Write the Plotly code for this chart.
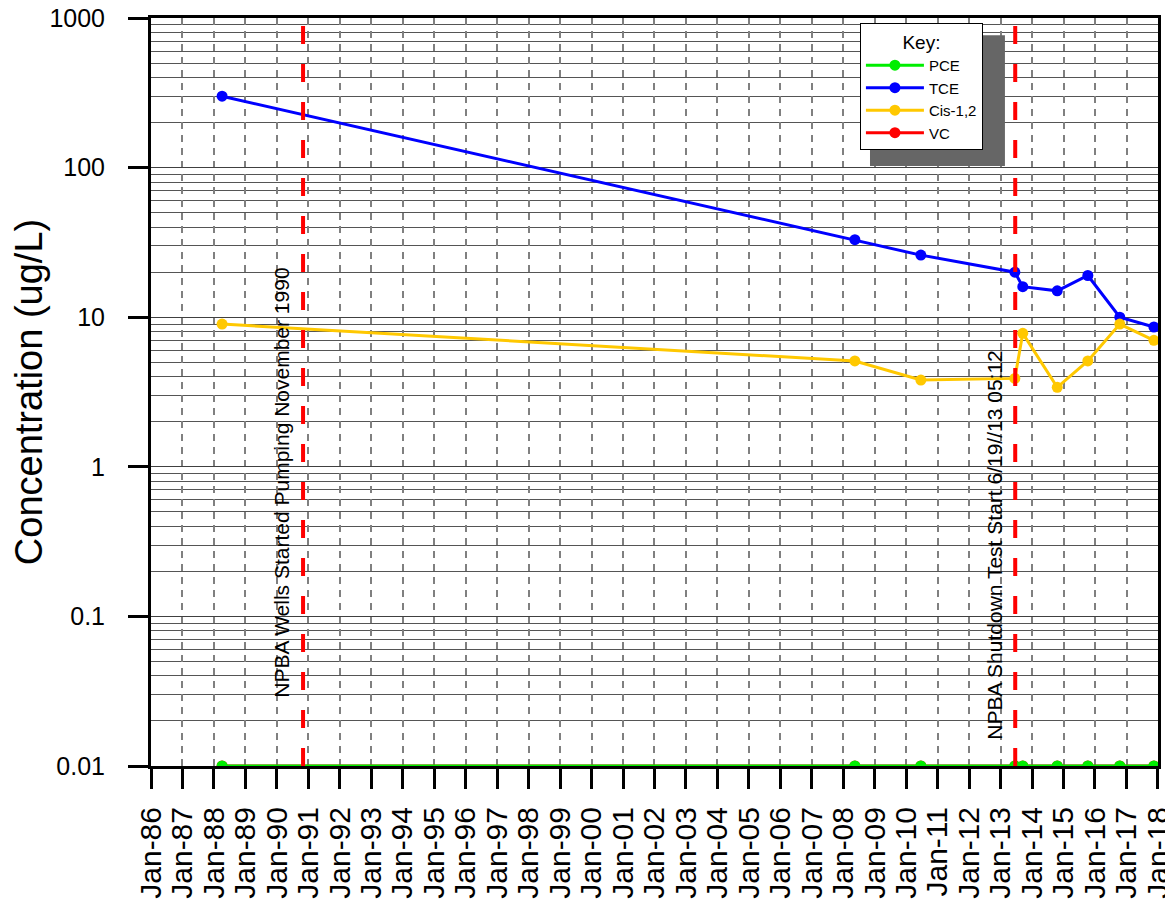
import plotly.graph_objects as go

# ---- data ----
dates = ["1988-04-05", "2008-05-15", "2010-06-20", "2013-06-15", "2013-09-15",
         "2014-10-20", "2015-10-10", "2016-10-15", "2017-11-15"]
pce = [0.01, 0.01, 0.01, 0.01, 0.01, 0.01, 0.01, 0.01, 0.01]
tce = [300, 33, 26, 20, 16, 15, 19, 10, 8.6]
cis12 = [9.0, 5.1, 3.8, 3.9, 7.8, 3.4, 5.1, 9.0, 7.0]
vc = [0.01, 0.01, 0.01, 0.01, 0.01, 0.01, 0.01, 0.01, 0.01]

event_dates = ["1990-11-01", "2013-06-19 05:12"]
event_labels = ["NPBA Wells Started Pumping November 1990",
                "NPBA Shutdown Test Start 6/19//13 05:12"]

y_major = [0.01, 0.1, 1, 10, 100, 1000]
y_major_text = ["0.01", "0.1", "1", "10", "100", "1000"]
y_minor = [m * d for d in [0.01, 0.1, 1, 10, 100] for m in range(2, 10)]

FONT = "Arial, Liberation Sans, sans-serif"

fig = go.Figure()

series = [
    ("VC", vc, "#ff0000", 4),
    ("PCE", pce, "#00ee00", 1),
    ("TCE", tce, "#0000ff", 2),
    ("Cis-1,2", cis12, "#ffc800", 3),
]
for name, vals, color, rank in series:
    fig.add_trace(go.Scatter(
        x=dates, y=vals, name=name, mode="lines+markers",
        line=dict(color=color, width=3),
        marker=dict(color=color, size=11),
        legendrank=rank,
    ))

# event lines and labels
yshift_paper = [0.088, 0.032]
for d, lab, yp in zip(event_dates, event_labels, yshift_paper):
    fig.add_shape(type="line", xref="x", yref="paper", x0=d, x1=d, y0=0, y1=1,
                  line=dict(color="#ff0000", width=4, dash="18px,20px"), layer="above")
    fig.add_annotation(x=d, xref="x", y=yp, yref="paper", text=lab, textangle=-90,
                       showarrow=False, xanchor="right", yanchor="bottom", xshift=-8,
                       font=dict(size=21, color="black", family=FONT))

# legend shadow
fig.add_shape(type="rect", xref="paper", yref="paper",
              x0=0.714, x1=0.848, y0=0.802, y1=0.977,
              fillcolor="#666666", line=dict(width=0), layer="above")

fig.update_layout(
    width=1165, height=895,
    margin=dict(l=143, r=15, t=10, b=137, autoexpand=False),
    plot_bgcolor="white", paper_bgcolor="white",
    font=dict(family=FONT, color="black"),
    showlegend=True,
    legend=dict(x=0.704, y=0.993, xanchor="left", yanchor="top",
                bgcolor="white", bordercolor="black", borderwidth=1,
                font=dict(size=15, family=FONT), itemwidth=58,
                title=dict(text="Key:", side="top center", font=dict(size=19, family=FONT))),
    xaxis=dict(
        type="date", range=["1986-01-01", "2018-01-01 12:00"],
        tick0="1986-01-01", dtick="M12", tickformat="%b-%y", tickangle=-90,
        ticks="outside", ticklen=20, tickwidth=3, tickcolor="black",
        tickfont=dict(size=30, family=FONT), ticklabelstandoff=6,
        ticklabeloverflow="allow",
        showline=True, linewidth=3, linecolor="black", mirror=True,
        showgrid=True, gridcolor="#808080", gridwidth=1.5, griddash="7px,6px",
        zeroline=False, automargin=False,
    ),
    yaxis=dict(
        type="log", range=[-2, 3],
        tickmode="array", tickvals=y_major, ticktext=y_major_text,
        ticks="outside", ticklen=20, tickwidth=3, tickcolor="black",
        tickfont=dict(size=25, family=FONT), ticklabelstandoff=18,
        ticklabeloverflow="allow",
        showline=True, linewidth=3, linecolor="black", mirror=True,
        showgrid=True, gridcolor="#404040", gridwidth=1,
        minor=dict(tickmode="array", tickvals=y_minor, ticks="", showgrid=True,
                   gridcolor="#555555", gridwidth=1),
        title=dict(text="Concentration (ug/L)", font=dict(size=38, family=FONT), standoff=16),
        zeroline=False, automargin=False,
    ),
)

fig.write_html("out.html")
